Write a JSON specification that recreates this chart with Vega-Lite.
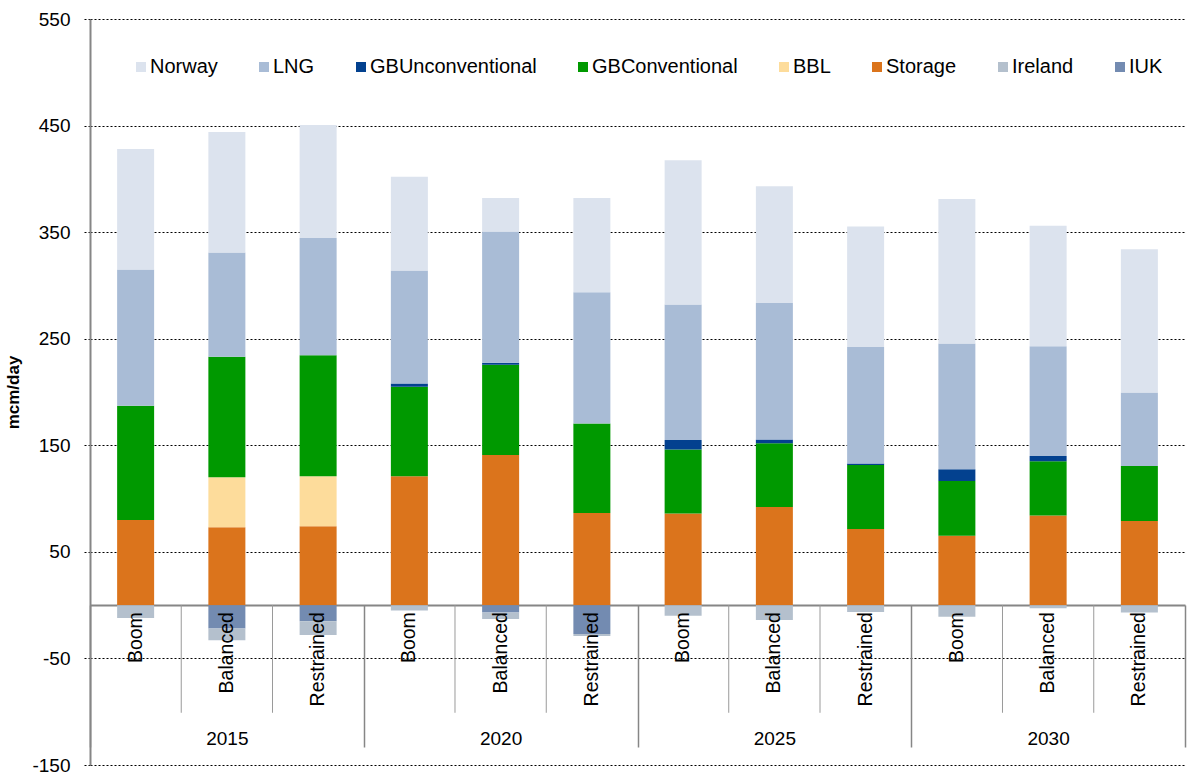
{
  "$schema": "https://vega.github.io/schema/vega-lite/v6.json",
  "width": 1095,
  "height": 746,
  "autosize": {"type": "none"},
  "padding": {"left": 90, "top": 19, "right": 4, "bottom": 7},
  "background": "white",
  "config": {
    "view": {"stroke": null},
    "font": "Liberation Sans",
    "axis": {"labelFont": "Liberation Sans", "titleFont": "Liberation Sans"},
    "legend": {"labelFont": "Liberation Sans"}
  },
  "datasets": {
    "stackorder": [
      {"source": "Storage", "rank": 0},
      {"source": "BBL", "rank": 1},
      {"source": "GBConventional", "rank": 2},
      {"source": "GBUnconventional", "rank": 3},
      {"source": "LNG", "rank": 4},
      {"source": "Norway", "rank": 5},
      {"source": "IUK", "rank": 6},
      {"source": "Ireland", "rank": 7}
    ],
    "supply": [
      {"year": "2015", "scenario": "Boom", "source": "Storage", "value": 80},
      {"year": "2015", "scenario": "Boom", "source": "GBConventional", "value": 107},
      {"year": "2015", "scenario": "Boom", "source": "LNG", "value": 128},
      {"year": "2015", "scenario": "Boom", "source": "Norway", "value": 113},
      {"year": "2015", "scenario": "Boom", "source": "Ireland", "value": -12},

      {"year": "2015", "scenario": "Balanced", "source": "Storage", "value": 73},
      {"year": "2015", "scenario": "Balanced", "source": "BBL", "value": 47},
      {"year": "2015", "scenario": "Balanced", "source": "GBConventional", "value": 113},
      {"year": "2015", "scenario": "Balanced", "source": "LNG", "value": 98},
      {"year": "2015", "scenario": "Balanced", "source": "Norway", "value": 113},
      {"year": "2015", "scenario": "Balanced", "source": "IUK", "value": -22},
      {"year": "2015", "scenario": "Balanced", "source": "Ireland", "value": -11},

      {"year": "2015", "scenario": "Restrained", "source": "Storage", "value": 74},
      {"year": "2015", "scenario": "Restrained", "source": "BBL", "value": 47},
      {"year": "2015", "scenario": "Restrained", "source": "GBConventional", "value": 113.5},
      {"year": "2015", "scenario": "Restrained", "source": "LNG", "value": 110},
      {"year": "2015", "scenario": "Restrained", "source": "Norway", "value": 106},
      {"year": "2015", "scenario": "Restrained", "source": "IUK", "value": -15},
      {"year": "2015", "scenario": "Restrained", "source": "Ireland", "value": -13},

      {"year": "2020", "scenario": "Boom", "source": "Storage", "value": 121},
      {"year": "2020", "scenario": "Boom", "source": "GBConventional", "value": 84},
      {"year": "2020", "scenario": "Boom", "source": "GBUnconventional", "value": 3},
      {"year": "2020", "scenario": "Boom", "source": "LNG", "value": 106},
      {"year": "2020", "scenario": "Boom", "source": "Norway", "value": 88},
      {"year": "2020", "scenario": "Boom", "source": "Ireland", "value": -5},

      {"year": "2020", "scenario": "Balanced", "source": "Storage", "value": 141},
      {"year": "2020", "scenario": "Balanced", "source": "GBConventional", "value": 84.5},
      {"year": "2020", "scenario": "Balanced", "source": "GBUnconventional", "value": 2},
      {"year": "2020", "scenario": "Balanced", "source": "LNG", "value": 123},
      {"year": "2020", "scenario": "Balanced", "source": "Norway", "value": 31.5},
      {"year": "2020", "scenario": "Balanced", "source": "IUK", "value": -7},
      {"year": "2020", "scenario": "Balanced", "source": "Ireland", "value": -6},

      {"year": "2020", "scenario": "Restrained", "source": "Storage", "value": 86.5},
      {"year": "2020", "scenario": "Restrained", "source": "GBConventional", "value": 84},
      {"year": "2020", "scenario": "Restrained", "source": "LNG", "value": 123},
      {"year": "2020", "scenario": "Restrained", "source": "Norway", "value": 88.5},
      {"year": "2020", "scenario": "Restrained", "source": "IUK", "value": -27},
      {"year": "2020", "scenario": "Restrained", "source": "Ireland", "value": -2},

      {"year": "2025", "scenario": "Boom", "source": "Storage", "value": 86},
      {"year": "2025", "scenario": "Boom", "source": "GBConventional", "value": 60},
      {"year": "2025", "scenario": "Boom", "source": "GBUnconventional", "value": 9},
      {"year": "2025", "scenario": "Boom", "source": "LNG", "value": 127},
      {"year": "2025", "scenario": "Boom", "source": "Norway", "value": 135.5},
      {"year": "2025", "scenario": "Boom", "source": "Ireland", "value": -10},

      {"year": "2025", "scenario": "Balanced", "source": "Storage", "value": 92},
      {"year": "2025", "scenario": "Balanced", "source": "GBConventional", "value": 60},
      {"year": "2025", "scenario": "Balanced", "source": "GBUnconventional", "value": 3.5},
      {"year": "2025", "scenario": "Balanced", "source": "LNG", "value": 128},
      {"year": "2025", "scenario": "Balanced", "source": "Norway", "value": 109.5},
      {"year": "2025", "scenario": "Balanced", "source": "Ireland", "value": -14},

      {"year": "2025", "scenario": "Restrained", "source": "Storage", "value": 71.5},
      {"year": "2025", "scenario": "Restrained", "source": "GBConventional", "value": 60},
      {"year": "2025", "scenario": "Restrained", "source": "GBUnconventional", "value": 1.3},
      {"year": "2025", "scenario": "Restrained", "source": "LNG", "value": 109.5},
      {"year": "2025", "scenario": "Restrained", "source": "Norway", "value": 113},
      {"year": "2025", "scenario": "Restrained", "source": "Ireland", "value": -6.5},

      {"year": "2030", "scenario": "Boom", "source": "Storage", "value": 65},
      {"year": "2030", "scenario": "Boom", "source": "GBConventional", "value": 51.5},
      {"year": "2030", "scenario": "Boom", "source": "GBUnconventional", "value": 11},
      {"year": "2030", "scenario": "Boom", "source": "LNG", "value": 118},
      {"year": "2030", "scenario": "Boom", "source": "Norway", "value": 135.5},
      {"year": "2030", "scenario": "Boom", "source": "Ireland", "value": -11},

      {"year": "2030", "scenario": "Balanced", "source": "Storage", "value": 84},
      {"year": "2030", "scenario": "Balanced", "source": "GBConventional", "value": 51},
      {"year": "2030", "scenario": "Balanced", "source": "GBUnconventional", "value": 5},
      {"year": "2030", "scenario": "Balanced", "source": "LNG", "value": 103},
      {"year": "2030", "scenario": "Balanced", "source": "Norway", "value": 113},
      {"year": "2030", "scenario": "Balanced", "source": "Ireland", "value": -3},

      {"year": "2030", "scenario": "Restrained", "source": "Storage", "value": 79},
      {"year": "2030", "scenario": "Restrained", "source": "GBConventional", "value": 51.5},
      {"year": "2030", "scenario": "Restrained", "source": "LNG", "value": 69},
      {"year": "2030", "scenario": "Restrained", "source": "Norway", "value": 134.5},
      {"year": "2030", "scenario": "Restrained", "source": "Ireland", "value": -7}
    ]
  },
  "data": {"name": "supply"},
  "layer": [
    {
      "transform": [
        {"lookup": "source", "from": {"data": {"name": "stackorder"}, "key": "source", "fields": ["rank"]}}
      ],
      "mark": {"type": "bar"},
      "encoding": {
        "x": {
          "field": "year",
          "type": "nominal",
          "scale": {"paddingInner": 0, "paddingOuter": 0},
          "axis": {
            "orient": "bottom",
            "offset": -160,
            "title": null,
            "labelAngle": 0,
            "labelFontSize": 19,
            "labelColor": "#000000",
            "labelPadding": -18,
            "labelOverlap": false,
            "tickBand": "extent",
            "tickSize": 142,
            "tickColor": "#868686",
            "tickWidth": 1.5,
            "domainColor": "#868686",
            "domainWidth": 2,
            "grid": false
          }
        },
        "xOffset": {
          "field": "scenario",
          "type": "nominal",
          "sort": ["Boom", "Balanced", "Restrained"],
          "scale": {"paddingInner": 0.5945, "paddingOuter": 0.2973}
        },
        "y": {
          "field": "value",
          "type": "quantitative",
          "stack": "zero",
          "scale": {"domain": [-150, 550], "nice": false, "zero": false},
          "axis": {
            "values": [-150, -50, 50, 150, 250, 350, 450, 550],
            "labelExpr": "'' + datum.value",
            "title": "mcm/day",
            "titleFontSize": 17,
            "titleFontWeight": "bold",
            "titleColor": "#000000",
            "titlePadding": 9,
            "labelFontSize": 19,
            "labelColor": "#000000",
            "labelPadding": 14,
            "tickSize": 6,
            "tickColor": "#000000",
            "tickDash": [2, 2],
            "domainColor": "#868686",
            "domainWidth": 2,
            "grid": true,
            "gridColor": "#000000",
            "gridDash": [2, 2],
            "gridWidth": 1
          }
        },
        "order": {"field": "rank", "type": "quantitative", "sort": "ascending"},
        "color": {
          "field": "source",
          "type": "nominal",
          "scale": {
            "domain": ["Norway", "LNG", "GBUnconventional", "GBConventional", "BBL", "Storage", "Ireland", "IUK"],
            "range": ["#DCE3EE", "#A9BCD6", "#03418F", "#009900", "#FDDC9B", "#DB741C", "#B4C0CD", "#738BB1"]
          },
          "legend": {
            "orient": "none",
            "legendX": 41,
            "legendY": 38,
            "direction": "horizontal",
            "title": null,
            "symbolType": "square",
            "symbolSize": 100,
            "symbolStrokeWidth": 0,
            "labelFontSize": 20,
            "labelColor": "#000000",
            "labelOffset": -1,
            "columnPadding": 36,
            "labelLimit": 400
          }
        }
      }
    },
    {
      "transform": [{"filter": "datum.source == 'Storage' && datum.scenario == 'Boom'"}],
      "mark": {"type": "rule", "color": "#9A9A9A", "strokeWidth": 1},
      "encoding": {
        "x": {"field": "year", "type": "nominal", "bandPosition": 0.3333},
        "y": {"datum": 0},
        "y2": {"datum": -101}
      }
    },
    {
      "transform": [{"filter": "datum.source == 'Storage' && datum.scenario == 'Boom'"}],
      "mark": {"type": "rule", "color": "#9A9A9A", "strokeWidth": 1},
      "encoding": {
        "x": {"field": "year", "type": "nominal", "bandPosition": 0.6667},
        "y": {"datum": 0},
        "y2": {"datum": -101}
      }
    },
    {
      "transform": [{"filter": "datum.source == 'Storage'"}],
      "mark": {"type": "text", "angle": 270, "align": "right", "baseline": "middle", "dx": -7, "fontSize": 19.5, "color": "#000000", "font": "Liberation Sans"},
      "encoding": {
        "x": {"field": "year", "type": "nominal"},
        "xOffset": {"field": "scenario", "type": "nominal", "sort": ["Boom", "Balanced", "Restrained"]},
        "y": {"datum": 0},
        "text": {"field": "scenario"}
      }
    }
  ]
}
